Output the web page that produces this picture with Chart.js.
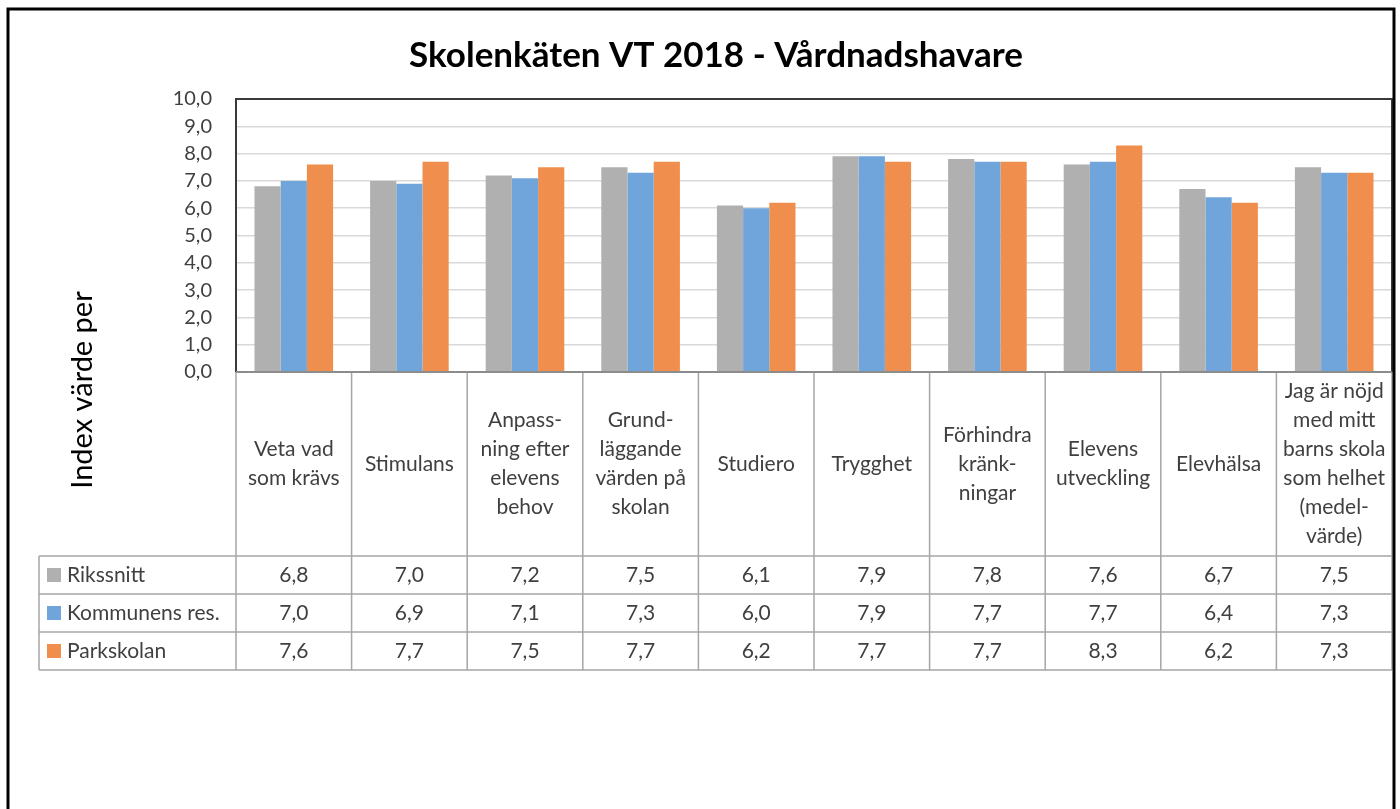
<!DOCTYPE html>
<html>
<head>
<meta charset="utf-8">
<title>Skolenkäten VT 2018 - Vårdnadshavare</title>
<script src="https://cdn.jsdelivr.net/npm/chart.js@4.4.1/dist/chart.umd.min.js"></script>
<style>
  html, body { margin: 0; padding: 0; background: #fff; }
  #wrap { width: 1400px; height: 809px; position: relative; }
</style>
</head>
<body>
<div id="wrap"><canvas id="skolChart" width="1400" height="809"></canvas></div>
<script>
const chartTitle = 'Skolenkäten VT 2018 - Vårdnadshavare';
const yAxisTitle = 'Index värde per';

// kategorier, radbrytningar som i tabellhuvudet
const categories = [
  ['Veta vad', 'som krävs'],
  ['Stimulans'],
  ['Anpass-', 'ning efter', 'elevens', 'behov'],
  ['Grund-', 'läggande', 'värden på', 'skolan'],
  ['Studiero'],
  ['Trygghet'],
  ['Förhindra', 'kränk-', 'ningar'],
  ['Elevens', 'utveckling'],
  ['Elevhälsa'],
  ['Jag är nöjd', 'med mitt', 'barns skola', 'som helhet', '(medel-', 'värde)']
];

const seriesNames = ['Rikssnitt', 'Kommunens res.', 'Parkskolan'];
const rikssnitt = [6.8, 7.0, 7.2, 7.5, 6.1, 7.9, 7.8, 7.6, 6.7, 7.5];
const kommunen = [7.0, 6.9, 7.1, 7.3, 6.0, 7.9, 7.7, 7.7, 6.4, 7.3];
const parkskolan = [7.6, 7.7, 7.5, 7.7, 6.2, 7.7, 7.7, 8.3, 6.2, 7.3];
const seriesColors = ['rgb(176, 176, 176)', 'rgb(111, 165, 218)', 'rgb(240, 143, 77)'];

const yMin = 0;
const yMax = 10;
const yStep = 1;

const fontFamily = 'Lato, "Open Sans", sans-serif';
const textColor = '#404040';

function formatNumber(v) {
  return v.toFixed(1).replace('.', ',');
}

document.addEventListener('DOMContentLoaded', function () {
  const canvas = document.getElementById('skolChart');
  const ctx = canvas.getContext('2d');

  // tabell, ramar och titlar
  const tablePlugin = {
    id: 'dataTable',
    afterDraw(chart) {
      const c = chart.ctx;
      const area = chart.chartArea;
      const xScale = chart.scales.x;
      const n = categories.length;
      const colW = (area.right - area.left) / n;
      const headerBottom = 556;
      const rowH = 38;
      const legendLeft = 39;
      const tableBottom = headerBottom + rowH * seriesNames.length;

      c.save();

      // plotram
      c.strokeStyle = '#3a3a3a';
      c.lineWidth = 2;
      c.beginPath();
      c.moveTo(area.left, area.bottom);
      c.lineTo(area.left, area.top);
      c.lineTo(area.right, area.top);
      c.lineTo(area.right, area.bottom);
      c.stroke();

      // tabellens linjer
      c.strokeStyle = '#a6a6a6';
      c.lineWidth = 1.5;
      c.beginPath();
      for (let i = 0; i <= n; i++) {
        const x = area.left + i * colW;
        c.moveTo(x, area.bottom);
        c.lineTo(x, tableBottom);
      }
      c.moveTo(legendLeft, headerBottom);
      c.lineTo(legendLeft, tableBottom);
      for (let r = 0; r <= seriesNames.length; r++) {
        const y = headerBottom + r * rowH;
        c.moveTo(legendLeft, y);
        c.lineTo(area.right, y);
      }
      c.stroke();

      // x-axel linje
      c.strokeStyle = '#8c8c8c';
      c.lineWidth = 2;
      c.beginPath();
      c.moveTo(area.left, area.bottom);
      c.lineTo(area.right, area.bottom);
      c.stroke();

      // kategorier i tabellhuvudet
      c.fillStyle = textColor;
      c.font = '21px ' + fontFamily;
      c.textAlign = 'center';
      c.textBaseline = 'middle';
      const lineH = 29;
      const headMid = (area.bottom + headerBottom) / 2;
      categories.forEach(function (lines, i) {
        const cx = xScale.getPixelForValue(i);
        const y0 = headMid - (lines.length - 1) * lineH / 2;
        lines.forEach(function (line, j) {
          c.fillText(line, cx, y0 + j * lineH);
        });
      });

      // rader med värden
      c.font = '21px ' + fontFamily;
      chart.data.datasets.forEach(function (ds, r) {
        const cy = headerBottom + r * rowH + rowH / 2;
        c.fillStyle = ds.backgroundColor;
        c.fillRect(47, cy - 7, 14, 14);
        c.fillStyle = textColor;
        c.textAlign = 'left';
        c.fillText(ds.label, 67, cy);
        c.textAlign = 'center';
        ds.data.forEach(function (v, i) {
          c.fillText(formatNumber(v), xScale.getPixelForValue(i), cy);
        });
      });

      // titel
      c.fillStyle = '#000';
      c.font = 'bold 35px ' + fontFamily;
      c.textAlign = 'center';
      c.fillText(chartTitle, 716, 56);

      // y-axelns titel
      c.save();
      c.translate(83, 390);
      c.rotate(-Math.PI / 2);
      c.fillStyle = '#000';
      c.font = '29px ' + fontFamily;
      c.fillText(yAxisTitle, 0, 0);
      c.restore();

      // yttre ram
      c.strokeStyle = '#000';
      c.lineWidth = 3;
      c.strokeRect(8, 9, 1386, 830);

      c.restore();
    }
  };

  new Chart(ctx, {
    type: 'bar',
    data: {
      labels: categories,
      datasets: [
        { label: seriesNames[0], data: rikssnitt, backgroundColor: seriesColors[0] },
        { label: seriesNames[1], data: kommunen, backgroundColor: seriesColors[1] },
        { label: seriesNames[2], data: parkskolan, backgroundColor: seriesColors[2] }
      ]
    },
    options: {
      responsive: false,
      animation: false,
      layout: {
        padding: { top: 99, right: 8, bottom: 437, left: 7 }
      },
      datasets: {
        bar: { categoryPercentage: 0.68, barPercentage: 1.0 }
      },
      plugins: {
        legend: { display: false },
        title: { display: false },
        tooltip: { enabled: false }
      },
      scales: {
        x: { display: false },
        y: {
          min: yMin,
          max: yMax,
          afterFit: function (scale) { scale.width = 229; },
          ticks: {
            stepSize: yStep,
            padding: 24,
            color: textColor,
            font: { family: fontFamily, size: 20 },
            callback: function (v) { return formatNumber(v); }
          },
          grid: {
            drawTicks: false,
            color: '#d9d9d9',
            lineWidth: 1.5
          },
          border: { display: false }
        }
      }
    },
    plugins: [tablePlugin]
  });
});
</script>
</body>
</html>
